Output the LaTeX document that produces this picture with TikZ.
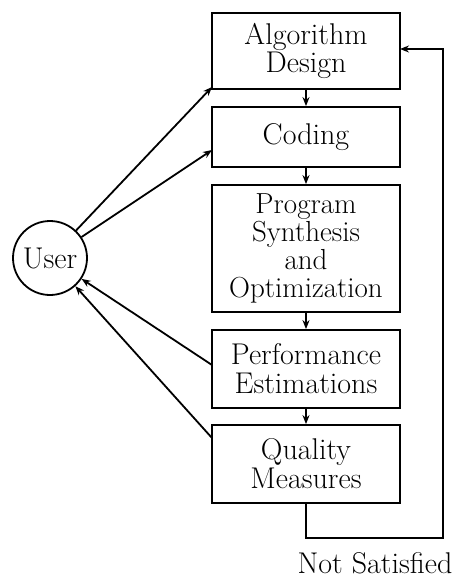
\documentclass[tikz,border=0pt]{standalone}
\usetikzlibrary{arrows.meta}
\begin{document}
\begin{tikzpicture}[x=1pt,y=-1pt,
  line width=1.8pt,
  stage/.style={draw,rectangle,minimum width=188pt,inner sep=0pt,align=center,
    font=\fontsize{30}{28}\selectfont},
  person/.style={draw,circle,minimum size=74pt,inner sep=0pt,font=\fontsize{30}{30}\selectfont},
  flow/.style={-{Stealth[length=9pt,width=7pt]}},
  lbl/.style={font=\fontsize{30}{30}\selectfont,inner sep=0pt}]
\useasboundingbox (0,0) rectangle (462,578);

% process stages
\node[stage,minimum height=76pt] (b1) at (306,51) {Algorithm\\Design};
\node[stage,minimum height=60pt] (b2) at (306,137) {Coding};
\node[stage,minimum height=127pt,font=\fontsize{29}{28}\selectfont] (b3) at (306,248.5)
  {Program\\Synthesis\\and\\Optimization};
\node[stage,minimum height=78pt,font=\fontsize{30}{29}\selectfont] (b4) at (306,369) {Performance\\Estimations};
\node[stage,minimum height=78pt,font=\fontsize{30}{29}\selectfont] (b5) at (306,464) {Quality\\Measures};

% the user
\node[person] (u) at (50,258) {User};

% downward flow between stages
\draw[flow] (b1.south) -- (b2.north);
\draw[flow] (b2.south) -- (b3.north);
\draw[flow] (b3.south) -- (b4.north);
\draw[flow] (b4.south) -- (b5.north);

% user interaction
\coordinate (t1) at (212,87);
\coordinate (t2) at (212,150);
\coordinate (s4) at (212,365);
\coordinate (s5) at (212,438);
\draw[flow] (u) -- (t1);
\draw[flow] (u) -- (t2);
\draw[flow] (s4) -- (u);
\draw[flow] (s5) -- (u);

% feedback loop
\coordinate (c1) at (306,538);
\coordinate (c2) at (443,538);
\coordinate (c3) at (443,49);
\coordinate (t3) at (400,49);
\draw[flow] (b5.south) -- (c1) -- (c2) -- (c3) -- (t3);
\node[lbl] (ns) at (375,563) {Not Satisfied};
\end{tikzpicture}
\end{document}
